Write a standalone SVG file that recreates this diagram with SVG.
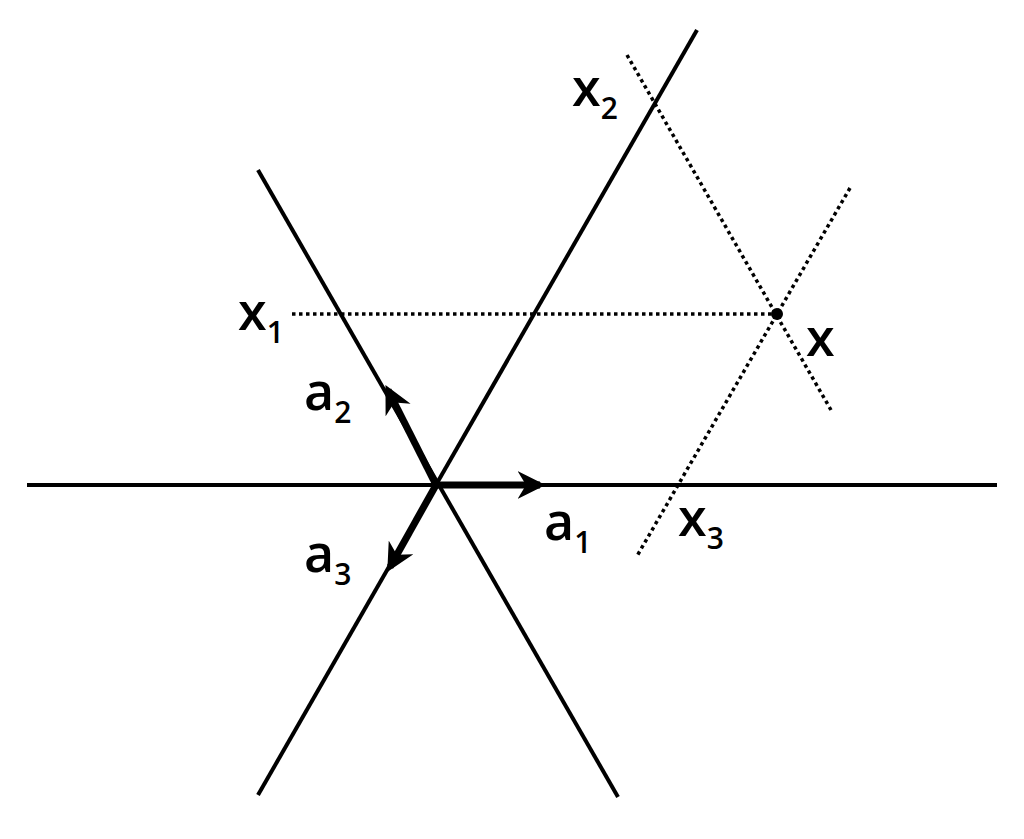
<svg xmlns="http://www.w3.org/2000/svg" width="1024" height="839" viewBox="0 0 1024 839">
<style>
.l{stroke:#000;stroke-width:4;fill:none}
.d{stroke:#000;stroke-width:3.5;stroke-dasharray:3.5 3.5;fill:none}
.v{stroke:#000;stroke-width:7;fill:none}
text{font-family:"Open Sans",Lato,sans-serif;font-size:52px;font-weight:600;fill:#000}
.s{font-size:30px}
</style>
<defs>
<marker id="ah" viewBox="0 0 10 10" refX="8" refY="5" markerWidth="4" markerHeight="4" orient="auto" markerUnits="strokeWidth">
<path d="M0,0 L10,5 L0,10 L3,5 Z" fill="#000"/>
</marker>
</defs>
<rect width="1024" height="839" fill="#fff"/>
<g id="connectors">
<line class="l" x1="27" y1="485" x2="997" y2="485"/>
<line class="l" x1="258" y1="795" x2="697" y2="30"/>
<line class="l" x1="258" y1="170" x2="618" y2="797"/>
<line class="d" x1="292" y1="314" x2="777" y2="314"/>
<line class="d" x1="627" y1="55" x2="831" y2="410"/>
<line class="d" x1="850" y1="188" x2="637" y2="556"/>
<line class="v" x1="436" y1="485" x2="540" y2="485" marker-end="url(#ah)"/>
<line class="v" x1="436" y1="485" x2="388" y2="390" marker-end="url(#ah)"/>
<line class="v" x1="436" y1="485" x2="390" y2="567" marker-end="url(#ah)"/>
</g>
<g id="point"><circle cx="777" cy="314" r="6" fill="#000"/></g>
<g id="labels">
<text x="572" y="106">x<tspan class="s" dy="13">2</tspan></text>
<text x="238" y="330">x<tspan class="s" dy="13">1</tspan></text>
<text x="806" y="356">x</text>
<text x="304" y="410">a<tspan class="s" dy="13">2</tspan></text>
<text x="304" y="572">a<tspan class="s" dy="13">3</tspan></text>
<text x="544" y="540">a<tspan class="s" dy="13">1</tspan></text>
<text x="678" y="536">x<tspan class="s" dy="13">3</tspan></text>
</g>
</svg>
